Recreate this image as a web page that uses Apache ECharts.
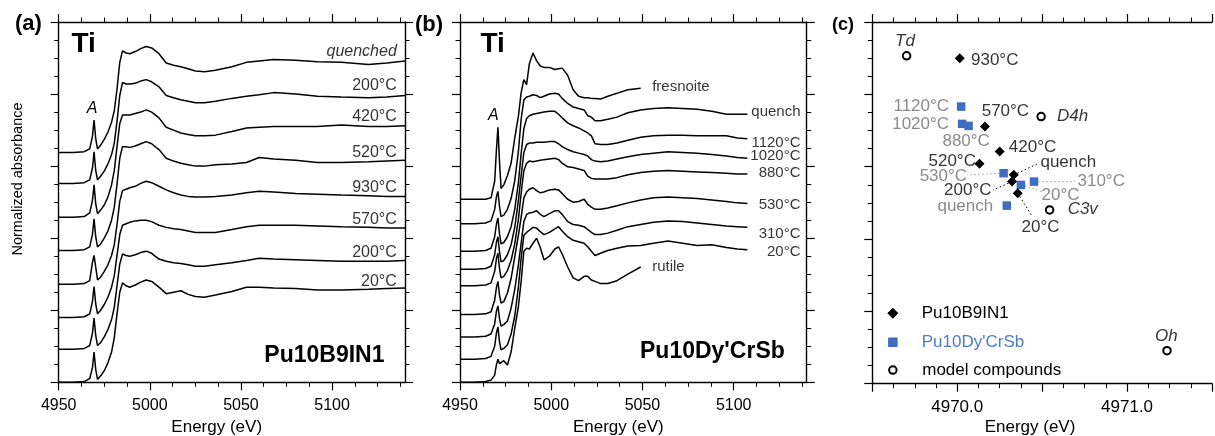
<!DOCTYPE html>
<html><head><meta charset="utf-8">
<script src="https://cdn.jsdelivr.net/npm/echarts@6/dist/echarts.min.js"></script>
<style>html,body{margin:0;padding:0;background:#fff}#c{width:1215px;height:436px}</style>
</head><body><div id="c"></div><script>
// ---------------- Panel (a) Pu10B9IN1 Ti K-edge XANES ----------------
const energyA = [4950, 4958, 4964, 4967, 4968.5, 4969.4, 4970.3, 4971.3, 4973, 4975,
  4977, 4979, 4980.5, 4982, 4983.5, 4985, 4987, 4989, 4992, 4995,
  4998, 5001, 5005, 5009, 5013, 5017, 5021, 5025, 5030, 5036,
  5045, 5053, 5060, 5068, 5080, 5092, 5105, 5120, 5130, 5140];
const labelsA = ['quenched', '200°C', '420°C', '520°C', '930°C', '570°C', '200°C', '20°C'];
const offsetsA = [3.19, 2.76, 2.29, 1.83, 1.36, 0.90, 0.46, 0.00];
const a_quenched = [0, 0, 0.01, 0.05, 0.22, 0.45, 0.19, 0.05, 0.10, 0.18, 0.28, 0.42, 0.58, 0.88, 1.25, 1.41, 1.38, 1.37, 1.40, 1.44, 1.47, 1.45, 1.37, 1.24, 1.21, 1.19, 1.16, 1.13, 1.12, 1.14, 1.19, 1.25, 1.27, 1.29, 1.28, 1.26, 1.25, 1.22, 1.24, 1.27];
const a_200 = [0, 0, 0.01, 0.05, 0.21, 0.44, 0.18, 0.05, 0.10, 0.17, 0.27, 0.40, 0.56, 0.86, 1.22, 1.40, 1.38, 1.38, 1.39, 1.42, 1.44, 1.41, 1.34, 1.22, 1.19, 1.16, 1.14, 1.12, 1.12, 1.14, 1.18, 1.21, 1.23, 1.26, 1.24, 1.21, 1.20, 1.19, 1.20, 1.22];
const a_420 = [0, 0, 0.01, 0.06, 0.23, 0.45, 0.19, 0.05, 0.10, 0.17, 0.28, 0.45, 0.65, 0.98, 1.30, 1.42, 1.42, 1.42, 1.44, 1.46, 1.49, 1.46, 1.38, 1.25, 1.21, 1.17, 1.15, 1.13, 1.13, 1.14, 1.19, 1.24, 1.25, 1.26, 1.26, 1.26, 1.28, 1.26, 1.26, 1.27];
const a_520 = [0, 0, 0.01, 0.05, 0.22, 0.44, 0.19, 0.05, 0.09, 0.17, 0.27, 0.42, 0.60, 0.92, 1.28, 1.44, 1.44, 1.43, 1.45, 1.48, 1.51, 1.48, 1.40, 1.28, 1.24, 1.21, 1.19, 1.17, 1.17, 1.19, 1.20, 1.22, 1.29, 1.27, 1.25, 1.22, 1.22, 1.23, 1.24, 1.25];
const a_930 = [0, 0, 0.01, 0.05, 0.30, 0.40, 0.24, 0.06, 0.10, 0.18, 0.27, 0.40, 0.55, 0.83, 1.15, 1.30, 1.32, 1.34, 1.36, 1.40, 1.43, 1.41, 1.36, 1.31, 1.27, 1.24, 1.22, 1.21, 1.21, 1.22, 1.24, 1.27, 1.29, 1.28, 1.26, 1.25, 1.24, 1.23, 1.22, 1.22];
const a_570 = [0, 0, 0.01, 0.05, 0.22, 0.43, 0.19, 0.05, 0.10, 0.18, 0.28, 0.42, 0.58, 0.86, 1.15, 1.28, 1.30, 1.32, 1.34, 1.35, 1.35, 1.33, 1.28, 1.25, 1.23, 1.22, 1.20, 1.18, 1.18, 1.18, 1.22, 1.26, 1.28, 1.28, 1.28, 1.27, 1.26, 1.25, 1.24, 1.24];
const a_200b = [0, 0, 0.01, 0.05, 0.22, 0.43, 0.19, 0.05, 0.09, 0.17, 0.27, 0.41, 0.58, 0.88, 1.18, 1.32, 1.30, 1.29, 1.31, 1.34, 1.36, 1.33, 1.25, 1.22, 1.20, 1.19, 1.17, 1.15, 1.15, 1.17, 1.20, 1.23, 1.26, 1.25, 1.24, 1.23, 1.22, 1.22, 1.22, 1.23];
const a_20 = [0, 0, 0.01, 0.05, 0.20, 0.42, 0.18, 0.04, 0.09, 0.16, 0.27, 0.42, 0.62, 0.95, 1.25, 1.38, 1.34, 1.32, 1.35, 1.39, 1.42, 1.40, 1.32, 1.23, 1.25, 1.27, 1.22, 1.19, 1.18, 1.21, 1.26, 1.32, 1.32, 1.31, 1.30, 1.28, 1.28, 1.29, 1.30, 1.31];
const curvesA = [a_quenched, a_200, a_420, a_520, a_930, a_570, a_200b, a_20];

// ---------------- Panel (b) Pu10Dy'CrSb ----------------
const energyB = [4950, 4958, 4964, 4967, 4969, 4970, 4970.8, 4971.6, 4972.5, 4974,
  4976, 4978, 4980, 4982, 4983.5, 4985, 4986.5, 4988, 4990, 4992,
  4994, 4996, 4999, 5002, 5004, 5006, 5009, 5012, 5015, 5018,
  5020, 5022, 5024, 5027, 5031, 5036, 5042, 5049, 5056, 5064,
  5072, 5080, 5088, 5096, 5102, 5107.5];
const labelsB = ['fresnoite', 'quench', '1120°C', '1020°C', '880°C', '530°C', '310°C', '20°C', 'rutile'];
const offsetsB = [2.54, 2.20, 1.82, 1.57, 1.34, 0.94, 0.63, 0.32, 0.00];
const b_fresnoite = [0, 0, 0, 0.02, 0.25, 0.70, 1.00, 0.55, 0.15, 0.20, 0.33, 0.50, 0.85, 1.15, 1.48, 1.66, 1.59, 1.88, 2.03, 1.92, 1.85, 1.83, 1.83, 1.80, 1.81, 1.82, 1.72, 1.52, 1.43, 1.41, 1.41, 1.40, 1.40, 1.39, 1.43, 1.47, 1.52, 1.54, null, null, null, null, null, null, null, null];
const b_quench = [0, 0, 0.01, 0.04, 0.20, 0.38, 0.45, 0.25, 0.10, 0.12, 0.20, 0.35, 0.60, 1.00, 1.45, 1.72, 1.76, 1.77, 1.79, 1.78, 1.75, 1.77, 1.80, 1.81, 1.80, 1.74, 1.67, 1.62, 1.60, 1.58, 1.50, 1.48, 1.43, 1.43, 1.45, 1.48, 1.54, 1.58, 1.60, 1.61, 1.60, 1.59, 1.56, 1.52, 1.52, 1.52];
const b_1120 = [0, 0, 0.01, 0.04, 0.20, 0.38, 0.46, 0.25, 0.10, 0.12, 0.20, 0.34, 0.58, 0.95, 1.35, 1.70, 1.84, 1.88, 1.90, 1.91, 1.92, 1.93, 1.94, 1.94, 1.90, 1.85, 1.78, 1.74, 1.71, 1.67, 1.64, 1.60, 1.49, 1.48, 1.48, 1.50, 1.54, 1.58, 1.60, 1.61, 1.61, 1.60, 1.60, 1.60, 1.57, 1.56];
const b_1020 = [0, 0, 0.01, 0.04, 0.20, 0.38, 0.45, 0.25, 0.10, 0.12, 0.20, 0.34, 0.58, 0.95, 1.30, 1.62, 1.73, 1.75, 1.75, 1.76, 1.76, 1.76, 1.77, 1.77, 1.74, 1.70, 1.66, 1.63, 1.61, 1.59, 1.57, 1.52, 1.50, 1.49, 1.50, 1.53, 1.56, 1.59, 1.61, 1.63, 1.62, 1.61, 1.59, 1.57, 1.55, 1.54];
const b_880 = [0, 0, 0.01, 0.04, 0.20, 0.38, 0.45, 0.25, 0.11, 0.13, 0.21, 0.35, 0.58, 0.92, 1.28, 1.60, 1.70, 1.73, 1.72, 1.73, 1.74, 1.75, 1.76, 1.77, 1.75, 1.70, 1.65, 1.64, 1.62, 1.60, 1.52, 1.49, 1.48, 1.48, 1.48, 1.50, 1.54, 1.57, 1.59, 1.60, 1.59, 1.58, 1.57, 1.56, 1.55, 1.55];
const b_530 = [0, 0, 0.01, 0.04, 0.20, 0.38, 0.46, 0.28, 0.16, 0.18, 0.30, 0.50, 0.80, 1.10, 1.35, 1.62, 1.70, 1.74, 1.76, 1.72, 1.69, 1.70, 1.73, 1.74, 1.73, 1.68, 1.60, 1.56, 1.57, 1.60, 1.53, 1.49, 1.46, 1.46, 1.48, 1.51, 1.55, 1.59, 1.62, 1.63, 1.62, 1.61, 1.59, 1.57, 1.55, 1.54];
const b_310 = [0, 0, 0.01, 0.04, 0.18, 0.36, 0.43, 0.26, 0.15, 0.17, 0.22, 0.40, 0.66, 1.00, 1.30, 1.60, 1.70, 1.72, 1.73, 1.75, 1.70, 1.67, 1.71, 1.75, 1.75, 1.70, 1.60, 1.56, 1.55, 1.53, 1.49, 1.45, 1.42, 1.42, 1.44, 1.48, 1.53, 1.56, 1.59, 1.61, 1.60, 1.58, 1.56, 1.54, 1.53, 1.52];
const b_20 = [0, 0, 0.01, 0.04, 0.18, 0.37, 0.45, 0.25, 0.13, 0.15, 0.20, 0.35, 0.60, 1.00, 1.40, 1.72, 1.76, 1.79, 1.83, 1.82, 1.77, 1.73, 1.76, 1.81, 1.84, 1.78, 1.70, 1.65, 1.63, 1.61, 1.56, 1.50, 1.44, 1.47, 1.51, 1.54, 1.57, 1.58, 1.61, 1.64, 1.61, 1.58, 1.59, 1.55, 1.53, 1.52];
const b_rutile = [0, 0, 0.01, 0.03, 0.10, 0.25, 0.32, 0.26, 0.25, 0.30, 0.24, 0.42, 0.75, 1.05, 1.40, 1.82, 1.86, 1.85, 1.93, 2.00, 1.87, 1.70, 1.75, 1.85, 1.88, 1.78, 1.60, 1.45, 1.41, 1.47, 1.47, 1.42, 1.40, 1.37, 1.37, 1.41, 1.50, 1.60, null, null, null, null, null, null, null, null];
const curvesB = [b_fresnoite, b_quench, b_1120, b_1020, b_880, b_530, b_310, b_20, b_rutile];

// ---------------- Panel (c) pre-edge centroid vs intensity ----------------
const b9Labels = ['930°C', '570°C', '420°C', '520°C', 'quench', '200°C', '20°C'];
const b9Energy = [4970.015, 4970.163, 4970.250, 4970.131, 4970.333, 4970.323, 4970.356];
const b9Intensity = [4.500, 3.555, 3.209, 3.039, 2.887, 2.794, 2.633];
const dyLabels = ['1120°C', '1020°C', '880°C', '530°C', '20°C', '310°C', 'quench'];
const dyEnergy = [4970.023, 4970.029, 4970.067, 4970.273, 4970.375, 4970.452, 4970.292];
const dyIntensity = [3.831, 3.592, 3.564, 2.910, 2.748, 2.794, 2.462];
const modelLabels = ['Td', 'D4h', 'C3v', 'Oh'];
const modelEnergy = [4969.702, 4970.494, 4970.544, 4971.235];
const modelIntensity = [4.532, 3.693, 2.402, 0.456];
// annotation anchors (text, energy, intensity, align, tone, italic)
const notesC = [
  ['Td', 4969.692, 4.730, 'center', 'k', 1],
  ['930°C', 4970.081, 4.477, 'left', 'k', 0],
  ['1120°C', 4969.952, 3.841, 'right', 'g', 0],
  ['570°C', 4970.144, 3.762, 'left', 'k', 0],
  ['D4h', 4970.587, 3.693, 'left', 'k', 1],
  ['1020°C', 4969.952, 3.592, 'right', 'g', 0],
  ['880°C', 4969.913, 3.347, 'left', 'g', 0],
  ['420°C', 4970.304, 3.270, 'left', 'k', 0],
  ['520°C', 4970.110, 3.071, 'right', 'k', 0],
  ['quench', 4970.490, 3.062, 'left', 'k', 0],
  ['530°C', 4970.058, 2.863, 'right', 'g', 0],
  ['310°C', 4970.708, 2.794, 'left', 'g', 0],
  ['200°C', 4970.202, 2.669, 'right', 'k', 0],
  ['20°C', 4970.496, 2.610, 'left', 'g', 0],
  ['quench', 4970.212, 2.458, 'right', 'g', 0],
  ['C3v', 4970.650, 2.412, 'left', 'k', 1],
  ['20°C', 4970.379, 2.163, 'left', 'k', 0],
  ['Oh', 4971.231, 0.660, 'center', 'k', 1]
];
// leader lines: [series, point index, end energy, end intensity]
const leadersC = [
  ['b9', 5, 4970.212, 2.679], ['b9', 6, 4970.442, 2.310], ['b9', 4, 4970.481, 3.048],
  ['dy', 3, 4970.058, 2.887], ['dy', 5, 4970.692, 2.794], ['dy', 4, 4970.500, 2.656]
];
const legendC = [['Pu10B9IN1', 0.974], ["Pu10Dy'CrSb", 0.573], ['model compounds', 0.189]];
const legendEnergy = 4969.621;
const ticksAB = [4950, 5000, 5050, 5100];

// ---------------- styling ----------------
const FONT = '"Liberation Sans", Arial, Helvetica, sans-serif';
const BLUE = '#3f6dbf';
const BLUE_TXT = '#4f7bc6';
const GREY = '#6e6e6e';
const nudgeA = [-9, -9.7, -9, -7.7, -8.3, -8.3, -8, -6.3];
const nudgeB = [-1.8, -2.7, 4, -2.6, -1, 1, 6, 2.4, 0];

function xAx(grid, pos, min, max, interval, showLabel, fs, fmt, majors) {
  const ax = {
    type: 'value', gridIndex: grid, position: pos, min: min, max: max, interval: interval,
    axisLine: {show: true, onZero: false, lineStyle: {color: '#000', width: 1.4}},
    axisTick: {show: true, inside: false, length: 8, lineStyle: {color: '#000', width: 1.2}},
    minorTick: {show: true, splitNumber: 4, length: 4.5, lineStyle: {color: '#000', width: 1}},
    splitLine: {show: false}, minorSplitLine: {show: false},
    axisLabel: {show: showLabel, color: '#000', fontSize: fs, fontFamily: FONT, margin: 15.5, formatter: fmt, showMaxLabel: true, showMinLabel: true}
  };
  if (majors) { ax.axisTick.customValues = majors; ax.axisLabel.customValues = majors; }
  return ax;
}
function yAx(grid, pos) {
  return {
    type: 'value', gridIndex: grid, position: pos, min: 0, max: 5, interval: 1,
    axisLine: {show: true, onZero: false, lineStyle: {color: '#000', width: 1.4}},
    axisTick: {show: true, inside: false, length: 8, lineStyle: {color: '#000', width: 1.2}},
    minorTick: {show: true, splitNumber: 4, length: 4.5, lineStyle: {color: '#000', width: 1}},
    splitLine: {show: false}, minorSplitLine: {show: false},
    axisLabel: {show: false}
  };
}
const fmtAB = v => (Math.abs(v % 50) < 1e-6 ? String(v) : '');
const fmtC = v => (Math.abs(v - Math.round(v)) < 1e-6 ? v.toFixed(1) : '');

const series = [];
function addCurves(energy, curves, offsets, xi, yi) {
  curves.forEach((rel, k) => {
    const pts = [];
    energy.forEach((e, i) => { if (rel[i] !== null) pts.push([e, +(rel[i] + offsets[k]).toFixed(4)]); });
    series.push({type: 'line', xAxisIndex: xi, yAxisIndex: yi, data: pts, showSymbol: false, symbol: 'none',
      silent: true, lineStyle: {color: '#000', width: 1.5}, z: 3});
  });
}
addCurves(energyA, curvesA, offsetsA, 0, 0);
addCurves(energyB, curvesB, offsetsB, 2, 2);

function lastPt(energy, rel, off) {
  let i = rel.length - 1; while (rel[i] === null) i--;
  return [energy[i], rel[i] + off];
}
function textSeries(xi, yi, items) {
  return {type: 'scatter', xAxisIndex: xi, yAxisIndex: yi, symbol: 'circle', symbolSize: 1,
    itemStyle: {color: 'rgba(0,0,0,0)'}, silent: true, z: 5, data: items};
}
// panel a labels
series.push(textSeries(0, 0, curvesA.map((rel, k) => {
  const lp = lastPt(energyA, rel, offsetsA[k]);
  return {value: [5135.5, lp[1]], label: {show: true, position: 'inside', formatter: labelsA[k], align: 'right',
    verticalAlign: 'middle', offset: [0, nudgeA[k]], color: '#000', fontSize: 16, fontFamily: FONT,
    fontStyle: k === 0 ? 'italic' : 'normal'}};
})));
// panel b labels
series.push(textSeries(2, 2, curvesB.map((rel, k) => {
  const lp = lastPt(energyB, rel, offsetsB[k]);
  const short = lp[0] < 5100;
  return {value: short ? lp : [5136.6, lp[1]], label: {show: true, position: 'inside', formatter: labelsB[k],
    align: short ? 'left' : 'right', verticalAlign: 'middle', offset: [short ? 11.5 : 0, nudgeB[k]],
    color: '#000', fontSize: 15, fontFamily: FONT}};
})));

// panel c leaders
leadersC.forEach(L => {
  const isB9 = L[0] === 'b9';
  const p = isB9 ? [b9Energy[L[1]], b9Intensity[L[1]]] : [dyEnergy[L[1]], dyIntensity[L[1]]];
  series.push({type: 'line', xAxisIndex: 4, yAxisIndex: 4, data: [p, [L[2], L[3]]], symbol: 'none', silent: true,
    lineStyle: {color: isB9 ? '#000' : '#a0a0a0', width: 1, type: [1.5, 2.5]}, z: 2});
});
// panel c points
series.push({type: 'scatter', xAxisIndex: 4, yAxisIndex: 4, symbol: 'emptyCircle', symbolSize: 7.5, silent: true,
  itemStyle: {color: '#000', borderColor: '#000', borderWidth: 1, opacity: 1}, z: 4,
  data: modelEnergy.map((e, i) => [e, modelIntensity[i]])});
series.push({type: 'scatter', xAxisIndex: 4, yAxisIndex: 4, symbol: 'rect', symbolSize: 8.5, silent: true,
  itemStyle: {color: BLUE, opacity: 1}, z: 4, data: dyEnergy.map((e, i) => [e, dyIntensity[i]])});
series.push({type: 'scatter', xAxisIndex: 4, yAxisIndex: 4, symbol: 'diamond', symbolSize: 10, silent: true,
  itemStyle: {color: '#000', opacity: 1}, z: 4, data: b9Energy.map((e, i) => [e, b9Intensity[i]])});
// panel c annotations
series.push(textSeries(4, 4, notesC.map(n => ({value: [n[1], n[2]], label: {show: true, position: 'inside',
  formatter: n[0], align: n[3], verticalAlign: 'middle', color: n[4] === 'g' ? GREY : '#000', fontSize: 17,
  fontFamily: FONT, fontStyle: n[5] ? 'italic' : 'normal'}}))));
// panel c legend
const legSym = ['diamond', 'rect', 'emptyCircle'];
const legSize = [10, 8.5, 7.5];
const legCol = ['#000', BLUE, '#000'];
const legTxt = ['#000', BLUE_TXT, '#000'];
series.push({type: 'scatter', xAxisIndex: 4, yAxisIndex: 4, silent: true, z: 4,
  data: legendC.map((L, i) => ({value: [legendEnergy, L[1]], symbol: legSym[i], symbolSize: legSize[i],
    itemStyle: {color: legCol[i], borderColor: legCol[i], borderWidth: 1, opacity: 1},
    label: {show: true, position: 'right', distance: 28.4 - legSize[i] / 2, formatter: L[0], color: legTxt[i],
      fontSize: 17, fontFamily: FONT}}))});

function txt(x, y, text, size, o) {
  o = o || {};
  const font = (o.italic ? 'italic ' : '') + (o.bold ? 'bold ' : '') + size + 'px ' + FONT;
  return {type: 'text', x: x, y: y, rotation: o.rot || 0, silent: true, z: 10,
    style: {text: text, font: font, fill: o.color || '#000', textAlign: o.align || 'left', align: o.align || 'left',
      textVerticalAlign: 'middle', verticalAlign: 'middle'}};
}
const graphic = [
  txt(15, 23.5, '(a)', 22, {bold: 1}),
  txt(415, 24.5, '(b)', 22, {bold: 1}),
  txt(832, 25.5, '(c)', 18, {bold: 1}),
  txt(71.5, 44.5, 'Ti', 28, {bold: 1}),
  txt(480.5, 44.5, 'Ti', 28, {bold: 1}),
  txt(92, 108.3, 'A', 16, {italic: 1, align: 'center'}),
  txt(493.3, 116, 'A', 16, {italic: 1, align: 'center'}),
  txt(264.3, 356.1, 'Pu10B9IN1', 23, {bold: 1}),
  txt(640, 351.6, "Pu10Dy'CrSb", 23, {bold: 1}),
  txt(17.5, 179, 'Normalized absorbance', 14.5, {align: 'center', rot: Math.PI / 2}),
  txt(216.7, 427, 'Energy (eV)', 17, {align: 'center'}),
  txt(618.3, 427, 'Energy (eV)', 17, {align: 'center'}),
  txt(1030, 427, 'Energy (eV)', 17, {align: 'center'})
];

const option = {
  animation: false,
  backgroundColor: '#fff',
  textStyle: {fontFamily: FONT},
  grid: [
    {left: 58.7, top: 22, width: 346.3, height: 360.3},
    {left: 460, top: 22, width: 346.7, height: 360.3},
    {left: 872.3, top: 22, width: 347.7, height: 361.7}
  ],
  xAxis: [
    xAx(0, 'bottom', 4950, 5140, 50, true, 16, fmtAB, ticksAB),
    xAx(0, 'top', 4950, 5140, 50, false, 16, fmtAB, ticksAB),
    xAx(1, 'bottom', 4950, 5140, 50, true, 16, fmtAB, ticksAB),
    xAx(1, 'top', 4950, 5140, 50, false, 16, fmtAB, ticksAB),
    xAx(2, 'bottom', 4969.5, 4971.5, 0.5, true, 17, fmtC, null),
    xAx(2, 'top', 4969.5, 4971.5, 0.5, false, 17, fmtC, null)
  ],
  yAxis: [yAx(0, 'left'), yAx(0, 'right'), yAx(1, 'left'), yAx(1, 'right'), yAx(2, 'left')],
  series: series,
  graphic: graphic
};
const chart = echarts.init(document.getElementById('c'), null, {renderer: 'canvas'});
chart.setOption(option);
</script></body></html>
